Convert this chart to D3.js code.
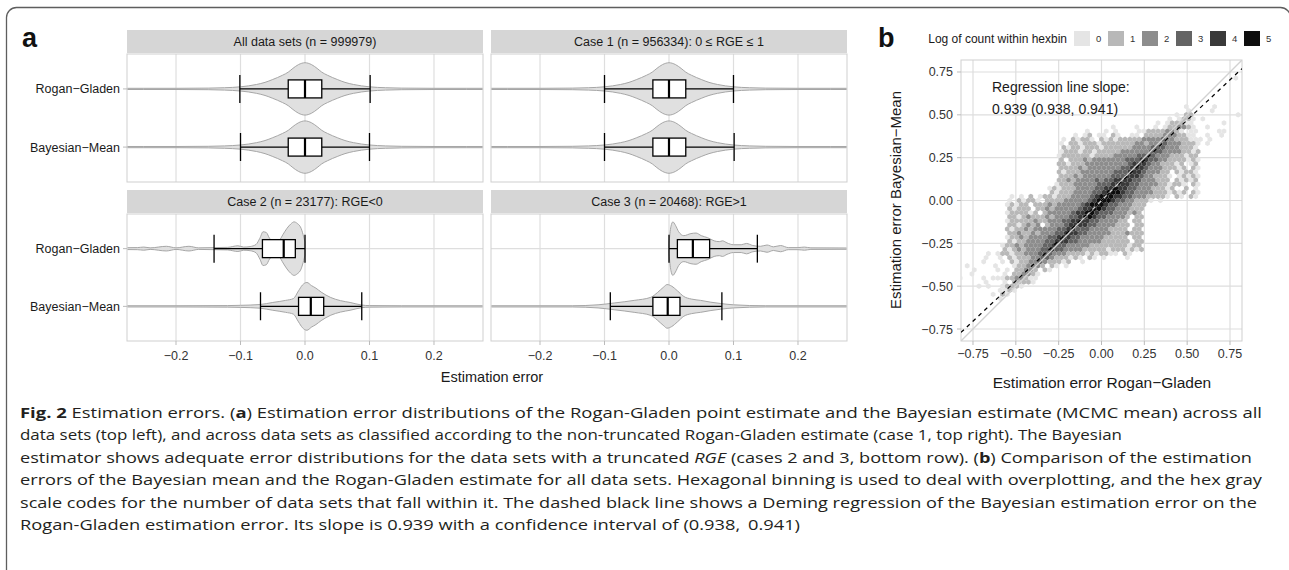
<!DOCTYPE html>
<html><head><meta charset="utf-8">
<script src="https://cdn.jsdelivr.net/npm/d3@7"></script>
<style>body{margin:0;background:#fff;} svg{display:block;}</style>
</head><body>
<svg id="chart" width="1289" height="570"></svg>
<script>
// ---------------- data ----------------
const facetTitles = ["All data sets (n = 999979)", "Case 1 (n = 956334): 0 \u2264 RGE \u2264 1", "Case 2 (n = 23177): RGE<0", "Case 3 (n = 20468): RGE>1"];
const methods = ["Rogan\u2212Gladen", "Bayesian\u2212Mean"];
const xTicksA = [-0.2, -0.1, 0.0, 0.1, 0.2];
const xTickLabelsA = ["\u22120.2", "\u22120.1", "0.0", "0.1", "0.2"];

// box stats: [lower whisker, q1, median, q3, upper whisker] for [Rogan-Gladen, Bayesian-Mean]
const boxAll   = [[-0.101, -0.026, 0.000, 0.026, 0.101], [-0.100, -0.026, 0.000, 0.026, 0.100]];
const boxCase1 = [[-0.100, -0.025, 0.000, 0.026, 0.100], [-0.100, -0.025, 0.000, 0.026, 0.101]];
const boxCase2 = [[-0.141, -0.066, -0.033, -0.015, 0.000], [-0.069, -0.010, 0.009, 0.029, 0.088]];
const boxCase3 = [[0.000, 0.013, 0.037, 0.063, 0.137], [-0.091, -0.025, -0.002, 0.017, 0.082]];

// violin profiles: [error, relative half-width]
const violinAll = [[-0.30,0.01],[-0.25,0.012],[-0.20,0.015],[-0.15,0.03],[-0.125,0.045],[-0.10,0.08],[-0.075,0.17],[-0.062,0.25],[-0.05,0.36],[-0.035,0.52],[-0.026,0.64],[-0.02,0.76],[-0.01,0.93],[0,1],[0.01,0.93],[0.02,0.76],[0.026,0.64],[0.035,0.52],[0.05,0.36],[0.062,0.25],[0.075,0.17],[0.10,0.08],[0.125,0.045],[0.15,0.03],[0.20,0.015],[0.25,0.012],[0.30,0.01]];
const violinCase1 = [[-0.30,0.01],[-0.25,0.012],[-0.20,0.015],[-0.15,0.03],[-0.125,0.045],[-0.10,0.08],[-0.075,0.17],[-0.062,0.25],[-0.05,0.36],[-0.035,0.52],[-0.026,0.64],[-0.02,0.76],[-0.01,0.93],[0,1],[0.01,0.93],[0.02,0.76],[0.026,0.64],[0.035,0.52],[0.05,0.36],[0.062,0.25],[0.075,0.17],[0.10,0.08],[0.125,0.045],[0.15,0.03],[0.20,0.015],[0.25,0.012],[0.30,0.01]];
const violinCase2RG = [[-0.30,0.03],[-0.26,0.04],[-0.25,0.06],[-0.24,0.03],[-0.215,0.09],[-0.20,0.03],[-0.18,0.09],[-0.165,0.03],[-0.14,0.04],[-0.12,0.05],[-0.104,0.11],[-0.095,0.06],[-0.085,0.08],[-0.076,0.16],[-0.07,0.4],[-0.065,0.65],[-0.06,0.62],[-0.055,0.4],[-0.048,0.27],[-0.04,0.32],[-0.034,0.55],[-0.028,0.78],[-0.022,0.95],[-0.017,1.03],[-0.012,0.97],[-0.006,0.78],[-0.002,0.45],[0,0.25]];
const violinCase2BM = [[-0.30,0.01],[-0.20,0.015],[-0.12,0.03],[-0.10,0.04],[-0.07,0.07],[-0.05,0.15],[-0.03,0.23],[-0.018,0.3],[-0.01,0.6],[-0.004,0.82],[0.003,0.92],[0.01,0.8],[0.017,0.7],[0.025,0.55],[0.04,0.34],[0.055,0.22],[0.07,0.15],[0.088,0.05],[0.10,0.03],[0.15,0.015],[0.30,0.01]];
const violinCase3RG = [[0,0.2],[0.003,0.85],[0.006,1.03],[0.01,0.9],[0.015,0.65],[0.023,0.5],[0.034,0.58],[0.042,0.6],[0.05,0.5],[0.06,0.42],[0.07,0.3],[0.078,0.27],[0.083,0.3],[0.09,0.22],[0.10,0.15],[0.112,0.15],[0.12,0.2],[0.13,0.12],[0.142,0.09],[0.152,0.14],[0.162,0.07],[0.173,0.12],[0.185,0.04],[0.20,0.04],[0.21,0.06],[0.22,0.03],[0.30,0.02]];
const violinCase3BM = [[-0.30,0.01],[-0.15,0.02],[-0.11,0.06],[-0.085,0.13],[-0.054,0.23],[-0.028,0.35],[-0.018,0.53],[-0.008,0.75],[-0.003,0.84],[0.004,0.78],[0.013,0.6],[0.023,0.38],[0.035,0.28],[0.049,0.23],[0.065,0.16],[0.08,0.11],[0.10,0.06],[0.15,0.02],[0.30,0.01]];

// panel b
const bTicks = [-0.75, -0.5, -0.25, 0, 0.25, 0.5, 0.75];
const bTickLabels = ["\u22120.75", "\u22120.50", "\u22120.25", "0.00", "0.25", "0.50", "0.75"];
const legendLevels = [0, 1, 2, 3, 4, 5];
const regressionSlope = 0.939;
const slopeCI = [0.938, 0.941];
// hexbin grid (bin width 0.0275): [row, first column, log10 count per column ('.' = empty)]
const hexRows = [
 [3,58,"0"],
 [10,48,"0"],[10,54,"0"],
 [11,48,"0"],[11,53,"0"],
 [12,46,"0.11"],[12,59,"0"],
 [13,44,"0.0110.0"],
 [14,42,"0.011100"],[14,56,"0"],
 [15,32,"0"],[15,37,"0"],[15,41,"0.0112210"],[15,52,"0"],
 [16,27,"0...0.0"],[16,38,"0011112210.00"],[16,55,"00"],
 [17,24,"0.01.00.10"],[17,36,"00.11112221100"],[17,52,"0..0"],
 [18,22,"0.10110.1"],[18,31,"010111112222322111000"],[18,53,"0"],
 [19,21,"0.1101110"],[19,30,"111111122"],[19,39,"12223222"],[19,47,"1110"],[19,52,"0"],
 [20,22,"1011011101"],[20,32,"1111122"],[20,39,"2233322"],[20,46,"21110"],
 [21,21,"0111011011"],[21,31,"1112222"],[21,38,"2233322"],[21,45,"221101"],
 [22,21,"0111111011"],[22,31,"1122222"],[22,38,"3333222"],[22,45,"111011"],
 [23,21,"1.1112122"],[23,30,"2222233"],[23,37,"344332"],[23,43,"21111010"],
 [24,21,"110111222"],[24,30,"222222"],[24,36,"3444322"],[24,43,"11101.01"],
 [25,21,"111121222"],[25,30,"22223"],[25,35,"3444322"],[25,42,"211101.10"],
 [26,21,"101112222"],[26,30,"22233"],[26,35,"344432"],[26,41,"2211.10110"],
 [27,21,"111212222"],[27,30,"2233"],[27,34,"3444322"],[27,41,"1110.01010"],
 [28,21,"112122223"],[28,30,"233"],[28,33,"4444332"],[28,40,"22111.10101"],
 [29,20,"0111222223"],[29,30,"33"],[29,32,"4444332"],[29,39,"222110110.10"],
 [30,19,"01011122223"],[30,30,"344544332"],[30,39,"2211101..1.0"],
 [31,19,"10111222233"],[31,30,"45554332"],[31,38,"2221110101.10"],
 [32,11,"0.0.1.01"],[32,19,"1011122223"],[32,29,"45554433"],[32,37,"22211110.10.10"],
 [33,10,"0.10110.111"],[33,21,"122222"],[33,27,"3455543"],[33,34,"322111"],[33,40,"0.0"],
 [34,10,"01011.11121"],[34,21,"22222"],[34,26,"3455543"],[34,33,"322211"],[34,39,"1"],
 [35,10,"10111.11212"],[35,21,"2222"],[35,25,"3445543"],[35,32,"3222111"],
 [36,10,"0111101.122"],[36,21,"2223"],[36,25,"4455433"],[36,32,"3222121"],
 [37,10,"11012111212"],[37,21,"223"],[37,24,"3445433"],[37,31,"22221.11"],
 [38,10,"01111121122"],[38,21,"23"],[38,23,"3444433"],[38,30,"222211.11"],
 [39,10,"1101212.122"],[39,21,"2"],[39,22,"3444433"],[39,29,"2222111.11"],
 [40,10,"10112122222"],[40,21,"3344333"],[40,28,"22221111.11"],
 [41,10,"1121121222"],[41,20,"3344433"],[41,27,"222221112111"],
 [42,10,"011212222"],[42,19,"3344433"],[42,26,"2222211111.11"],
 [43,10,"10112222"],[43,18,"3344433"],[43,25,"22222111111.11"],
 [44,9,"01121222"],[44,17,"2334332"],[44,24,"222211111111011"],
 [45,9,"1012122"],[45,16,"2334332"],[45,23,"2221111101110101"],
 [46,6,"0.0110112"],[46,15,"2233322"],[46,22,"211110101100.10"],
 [47,5,"0..0.1011"],[47,14,"1223321"],[47,21,"11010.10.0....0"],
 [48,5,"0...0.101"],[48,14,"122321"],[48,20,"1101..0"],
 [49,1,"0"],[49,7,"0"],[49,11,"0112221.10"],[49,22,"0"],
 [50,3,"0"],[50,8,"0"],[50,10,"0.11221.10"],
 [51,2,"0"],[51,9,"0.112210"],
 [52,0,"0"],[52,5,"0.00"],[52,9,"01122100"],
 [53,5,"0...0.11110"],
 [54,4,"0.0"],[54,9,"01110"],
 [55,8,"0010"],
 [56,7,"0.10"],
 [57,8,"0"]
];
const hexBinWidth = 0.0275;

// ---------------- drawing ----------------
const svg = d3.select("#chart");
const FONT = "'Liberation Sans', Arial, Helvetica, sans-serif";
const txt = "#1a1a1a", tickTxt = "#333333", gridCol = "#dedede", borderCol = "#cfcfcf";

svg.append("rect").attr("x", 6.5).attr("y", 7.5).attr("width", 1284).attr("height", 620).attr("rx", 10)
  .attr("fill", "none").attr("stroke", "#5e5e5e").attr("stroke-width", 1.3);

svg.append("text").attr("x", 22).attr("y", 47).text("a").attr("font-family", FONT).attr("font-weight", "bold").attr("font-size", 27).attr("fill", "#111");
svg.append("text").attr("x", 878).attr("y", 47).text("b").attr("font-family", FONT).attr("font-weight", "bold").attr("font-size", 27).attr("fill", "#111");

// ---- panel a ----
const colX = [[127, 483], [491, 847]];
const rowY = [{strip: [30, 53], panel: [54, 182]}, {strip: [190, 213], panel: [214, 341]}];
const boxes = [boxAll, boxCase1, boxCase2, boxCase3];
const violins = [[violinAll, violinAll], [violinCase1, violinCase1], [violinCase2RG, violinCase2BM], [violinCase3RG, violinCase3BM]];
const defs = svg.append("defs");

facetTitles.forEach((title, i) => {
  const col = i % 2, row = Math.floor(i / 2);
  const [x0, x1] = colX[col];
  const ry = rowY[row];
  const x = d3.scaleLinear().domain([-0.276, 0.276]).range([x0, x1]);
  const y = d3.scalePoint().domain(methods).range(ry.panel).padding(0.6);
  const band = y.step();
  const halfMax = band * 0.45;

  svg.append("rect").attr("x", x0).attr("y", ry.strip[0]).attr("width", x1 - x0).attr("height", ry.strip[1] - ry.strip[0]).attr("fill", "#d6d6d6");
  svg.append("text").attr("x", (x0 + x1) / 2).attr("y", (ry.strip[0] + ry.strip[1]) / 2 + 4.5).attr("text-anchor", "middle")
    .attr("font-family", FONT).attr("font-size", 12.5).attr("fill", txt).text(title);

  const g = svg.append("g");
  g.selectAll(".vg").data(xTicksA).join("line").attr("x1", d => x(d)).attr("x2", d => x(d)).attr("y1", ry.panel[0]).attr("y2", ry.panel[1])
    .attr("stroke", gridCol).attr("stroke-width", 1.2);
  g.selectAll(".hg").data(methods).join("line").attr("x1", x0).attr("x2", x1).attr("y1", d => y(d)).attr("y2", d => y(d))
    .attr("stroke", gridCol).attr("stroke-width", 1.2);
  g.append("rect").attr("x", x0).attr("y", ry.panel[0]).attr("width", x1 - x0).attr("height", ry.panel[1] - ry.panel[0])
    .attr("fill", "none").attr("stroke", borderCol).attr("stroke-width", 1);

  const clipId = "clipA" + i;
  defs.append("clipPath").attr("id", clipId).append("rect").attr("x", x0 + 0.5).attr("y", ry.panel[0]).attr("width", x1 - x0 - 1).attr("height", ry.panel[1] - ry.panel[0]);
  const gv = svg.append("g").attr("clip-path", `url(#${clipId})`);

  methods.forEach((m, j) => {
    const cy = y(m);
    const prof = violins[i][j];
    const area = d3.area().curve(d3.curveMonotoneX)
      .x(d => x(d[0]))
      .y0(d => cy - Math.max(d[1] * halfMax, 0.6))
      .y1(d => cy + Math.max(d[1] * halfMax, 0.6));
    gv.append("path").attr("d", area(prof)).attr("fill", "#e0e0e0").attr("stroke", "#a6a6a6").attr("stroke-width", 1);

    const [lo, q1, med, q3, hi] = boxes[i][j];
    const bh = 9, ch = 14;
    gv.append("line").attr("x1", x(lo)).attr("x2", x(q1)).attr("y1", cy).attr("y2", cy).attr("stroke", "#000").attr("stroke-width", 1.3);
    gv.append("line").attr("x1", x(q3)).attr("x2", x(hi)).attr("y1", cy).attr("y2", cy).attr("stroke", "#000").attr("stroke-width", 1.3);
    [lo, hi].forEach(v => gv.append("line").attr("x1", x(v)).attr("x2", x(v)).attr("y1", cy - ch).attr("y2", cy + ch).attr("stroke", "#000").attr("stroke-width", 1.3));
    gv.append("rect").attr("x", x(q1)).attr("y", cy - bh).attr("width", x(q3) - x(q1)).attr("height", 2 * bh)
      .attr("fill", "#fff").attr("stroke", "#000").attr("stroke-width", 1.3);
    gv.append("line").attr("x1", x(med)).attr("x2", x(med)).attr("y1", cy - bh).attr("y2", cy + bh).attr("stroke", "#000").attr("stroke-width", 2.2);
  });

  if (col === 0) {
    methods.forEach(m => {
      svg.append("line").attr("x1", x0 - 4).attr("x2", x0).attr("y1", y(m)).attr("y2", y(m)).attr("stroke", "#bbb").attr("stroke-width", 1);
      svg.append("text").attr("x", x0 - 7).attr("y", y(m) + 4.5).attr("text-anchor", "end").attr("font-family", FONT)
        .attr("font-size", 12.5).attr("fill", txt).text(m);
    });
  }
  if (row === 1) {
    xTicksA.forEach((t, k) => {
      svg.append("line").attr("x1", x(t)).attr("x2", x(t)).attr("y1", ry.panel[1]).attr("y2", ry.panel[1] + 4).attr("stroke", "#bbb").attr("stroke-width", 1);
      svg.append("text").attr("x", x(t)).attr("y", ry.panel[1] + 18.5).attr("text-anchor", "middle").attr("font-family", FONT)
        .attr("font-size", 12.5).attr("fill", tickTxt).text(xTickLabelsA[k]);
    });
  }
});
svg.append("text").attr("x", 492).attr("y", 382).attr("text-anchor", "middle").attr("font-family", FONT).attr("font-size", 14.5).attr("fill", txt).text("Estimation error");

// ---- panel b ----
const xb = d3.scaleLinear().domain([-0.82, 0.82]).range([961, 1242]);
const yb = d3.scaleLinear().domain([-0.82, 0.82]).range([341, 60]);
const gb = svg.append("g");
gb.selectAll(".bvg").data(bTicks).join("line").attr("x1", d => xb(d)).attr("x2", d => xb(d)).attr("y1", 60).attr("y2", 341).attr("stroke", gridCol).attr("stroke-width", 1.2);
gb.selectAll(".bhg").data(bTicks).join("line").attr("y1", d => yb(d)).attr("y2", d => yb(d)).attr("x1", 961).attr("x2", 1242).attr("stroke", gridCol).attr("stroke-width", 1.2);
gb.append("rect").attr("x", 961).attr("y", 60).attr("width", 281).attr("height", 281).attr("fill", "none").attr("stroke", borderCol).attr("stroke-width", 1);

const levelColor = d3.scaleLinear().domain(legendLevels).range(["#e5e5e5", "#b8b8b8", "#8d8d8d", "#646464", "#3a3a3a", "#0e0e0e"]);
const hexCells = [];
hexRows.forEach(([r, c0, s]) => {
  for (let k = 0; k < s.length; k++) {
    if (s[k] === ".") continue;
    const c = c0 + k;
    hexCells.push({x: (c - 30 + (r % 2 ? 0.5 : 0)) * hexBinWidth, y: (33 - r) * hexBinWidth * Math.sqrt(3) / 2, level: +s[k]});
  }
});
const R = (xb(hexBinWidth) - xb(0)) / Math.sqrt(3);
const hexPath = "M" + d3.range(6).map(k => { const a = Math.PI / 3 * k - Math.PI / 2; return [R * Math.cos(a), R * Math.sin(a)].map(v => v.toFixed(3)).join(","); }).join("L") + "Z";
defs.append("clipPath").attr("id", "clipB").append("rect").attr("x", 961).attr("y", 60).attr("width", 281).attr("height", 281);
const gh = svg.append("g").attr("clip-path", "url(#clipB)");
gh.selectAll("path.hex").data(hexCells).join("path").attr("class", "hex")
  .attr("d", hexPath).attr("transform", d => `translate(${xb(d.x)},${yb(d.y)})`).attr("fill", d => levelColor(d.level));
gh.append("line").attr("x1", xb(-0.82)).attr("y1", yb(-0.82)).attr("x2", xb(0.82)).attr("y2", yb(0.82)).attr("stroke", "#d2d2d2").attr("stroke-width", 1.3);
gh.append("line").attr("x1", xb(-0.82)).attr("y1", yb(-0.82 * regressionSlope)).attr("x2", xb(0.82)).attr("y2", yb(0.82 * regressionSlope))
  .attr("stroke", "#000").attr("stroke-width", 1.2).attr("stroke-dasharray", "4,4");

bTicks.forEach((t, k) => {
  svg.append("line").attr("x1", xb(t)).attr("x2", xb(t)).attr("y1", 341).attr("y2", 345).attr("stroke", "#bbb");
  svg.append("text").attr("x", xb(t)).attr("y", 357.5).attr("text-anchor", "middle").attr("font-family", FONT).attr("font-size", 12.5).attr("fill", tickTxt).text(bTickLabels[k]);
  svg.append("line").attr("x1", 957).attr("x2", 961).attr("y1", yb(t)).attr("y2", yb(t)).attr("stroke", "#bbb");
  svg.append("text").attr("x", 953).attr("y", yb(t) + 4.5).attr("text-anchor", "end").attr("font-family", FONT).attr("font-size", 12.5).attr("fill", tickTxt).text(bTickLabels[k]);
});
svg.append("text").attr("x", 1102).attr("y", 388).attr("text-anchor", "middle").attr("font-family", FONT).attr("font-size", 15.5).attr("fill", txt).text("Estimation error Rogan\u2212Gladen");
svg.append("text").attr("transform", "translate(901,200) rotate(-90)").attr("text-anchor", "middle").attr("font-family", FONT).attr("font-size", 15).attr("fill", txt).text("Estimation error Bayesian\u2212Mean");

svg.append("text").attr("x", 992).attr("y", 92).attr("font-family", FONT).attr("font-size", 14).attr("fill", txt).text("Regression line slope:");
svg.append("text").attr("x", 992).attr("y", 114).attr("font-family", FONT).attr("font-size", 14).attr("fill", txt)
  .text(`${regressionSlope.toFixed(3)} (${slopeCI[0].toFixed(3)}, ${slopeCI[1].toFixed(3)})`);

svg.append("text").attr("x", 1067).attr("y", 43).attr("text-anchor", "end").attr("font-family", FONT).attr("font-size", 12).attr("fill", txt).text("Log of count within hexbin");
legendLevels.forEach((lv, k) => {
  const lx = 1074 + k * 34;
  svg.append("rect").attr("x", lx).attr("y", 31).attr("width", 16).attr("height", 15).attr("fill", levelColor(lv));
  svg.append("text").attr("x", lx + 22).attr("y", 42).attr("font-family", FONT).attr("font-size", 9.5).attr("fill", tickTxt).text(lv);
});

// ---- caption ----
const captionLines = [
  [["Fig. 2", "b"], [" Estimation errors. (", ""], ["a", "b"], [") Estimation error distributions of the Rogan-Gladen point estimate and the Bayesian estimate (MCMC mean) across all", ""]],
  [["data sets (top left), and across data sets as classified according to the non-truncated Rogan-Gladen estimate (case 1, top right). The Bayesian", ""]],
  [["estimator shows adequate error distributions for the data sets with a truncated ", ""], ["RGE", "i"], [" (cases 2 and 3, bottom row). (", ""], ["b", "b"], [") Comparison of the estimation", ""]],
  [["errors of the Bayesian mean and the Rogan-Gladen estimate for all data sets. Hexagonal binning is used to deal with overplotting, and the hex gray", ""]],
  [["scale codes for the number of data sets that fall within it. The dashed black line shows a Deming regression of the Bayesian estimation error on the", ""]],
  [["Rogan-Gladen estimation error. Its slope is 0.939 with a confidence interval of (0.938,\u2009 0.941)", ""]]
];
const captionEnds = [1262, 1122, 1252, 1262, 1257, 800];
captionLines.forEach((parts, li) => {
  const t = svg.append("text").attr("x", 20).attr("y", 418 + li * 22.4).attr("font-family", "'Open Sans', 'Noto Sans', sans-serif")
    .attr("font-size", 14.5).attr("fill", "#231f20");
  parts.forEach(([s, st]) => {
    const sp = t.append("tspan").text(s);
    if (st === "b") sp.attr("font-weight", "bold");
    if (st === "i") sp.attr("font-style", "italic");
  });
  t.attr("textLength", captionEnds[li] - 20).attr("lengthAdjust", "spacingAndGlyphs");
});
</script>
</body></html>
